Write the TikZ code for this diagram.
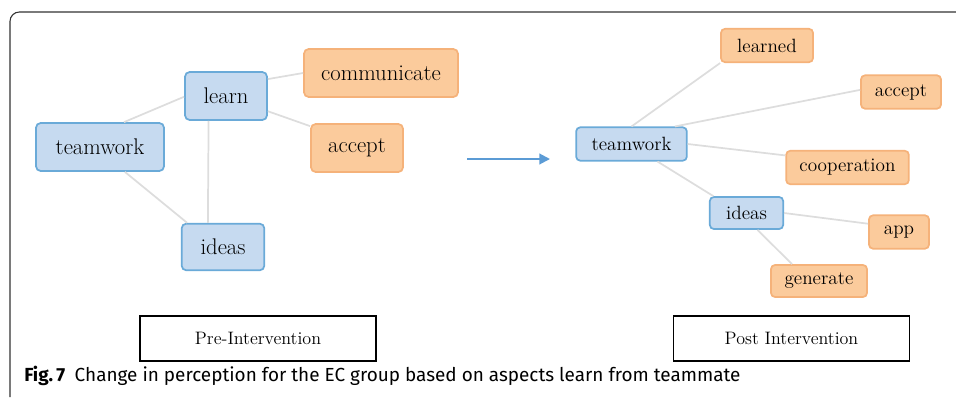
\documentclass[tikz,border=0pt]{standalone}
\usepackage{xcolor}
\usepackage{fontspec}
\usepackage{tikz}
\usetikzlibrary{arrows.meta}
\newfontfamily\capfont{Fira Sans}
\definecolor{boxblue}{HTML}{C6DAF0}
\definecolor{lineblue}{HTML}{6AAAD8}
\definecolor{boxorange}{HTML}{FBCB9C}
\definecolor{lineorange}{HTML}{F5B27A}
\definecolor{linkgray}{HTML}{DDDDDD}
\definecolor{arrowblue}{HTML}{5B9BD5}

\begin{document}
\begin{tikzpicture}[x=0.75pt,y=-0.75pt,
  term/.style={rounded corners=3.5pt, line width=1.3pt, inner sep=0pt},
  preterm/.style={term, minimum height=36pt, font=\fontsize{17}{20}\selectfont},
  postterm/.style={term, rounded corners=3pt, minimum height=25pt, font=\fontsize{14.4}{17}\selectfont},
  bluebox/.style={draw=lineblue, fill=boxblue},
  orangebox/.style={draw=lineorange, fill=boxorange},
  link/.style={draw=linkgray, line width=1.3pt},
  phasebox/.style={draw, line width=1pt, minimum width=177pt, minimum height=33.75pt, inner sep=0pt, font=\fontsize{13.5}{16}\selectfont}]
\useasboundingbox (0,0) rectangle (956,397);
% frame
\draw[line width=0.8pt, color=black!80, rounded corners=7pt] (10,397) -- (10,12) -- (960,12);
% pre intervention
\node[preterm, bluebox, minimum width=96pt] (tw1) at (100,147) {teamwork};
\node[preterm, bluebox, minimum width=61.5pt] (learn) at (226,96) {learn};
\node[preterm, orangebox, minimum width=115.5pt] (comm) at (381,73) {communicate};
\node[preterm, orangebox, minimum width=69pt] (acc1) at (357,148) {accept};
\node[preterm, bluebox, minimum width=62pt, minimum height=35pt] (ide1) at (223,247) {ideas};
\draw[link] (tw1.46) -- (learn.181);
\draw[link] (tw1.-45) -- (ide1.146);
\draw[link] (learn.-125) -- (ide1.122);
\draw[link] (learn.22) -- (comm.west);
\draw[link] (learn.-20) -- (acc1.155);
% arrow
\coordinate (from) at (467,159);
\coordinate (to) at (550,159);
\draw[arrowblue, line width=1.5pt, -{Triangle[length=8pt,width=8pt]}] (from) -- (to);
% post intervention
\node[postterm, orangebox, minimum width=69pt] (learned) at (767,45.5) {learned};
\node[postterm, orangebox, minimum width=60pt] (acc2) at (901,92) {accept};
\node[postterm, bluebox, minimum width=83pt] (tw2) at (631.5,144) {teamwork};
\node[postterm, orangebox, minimum width=92pt] (coop) at (847.5,167.5) {cooperation};
\node[postterm, bluebox, minimum width=55pt, minimum height=24pt] (ide2) at (746.5,213) {ideas};
\node[postterm, orangebox, minimum width=45pt] (app) at (899,232) {app};
\node[postterm, orangebox, minimum width=72pt, minimum height=24pt] (gen) at (819,281) {generate};
\draw[link] (tw2.north) -- (learned.south west);
\draw[link] (tw2.22) -- (acc2.177);
\draw[link] (tw2.east) -- (coop.169);
\draw[link] (tw2.-34) -- (ide2.153);
\draw[link] (ide2.east) -- (app.165);
\draw[link] (ide2.-57) -- (gen.148);
% phase labels
\node[phasebox] (pre) at (258,338.5) {Pre-Intervention};
\node[phasebox] (post) at (791.5,338.5) {Post Intervention};
% caption
\node[anchor=base west, inner sep=0pt, font=\capfont\fontsize{14.2}{17}\selectfont] (cap) at (24,381)
  {\textbf{Fig.\,7}\hspace{0.5em}Change in perception for the EC group based on aspects learn from teammate};
\end{tikzpicture}
\end{document}
